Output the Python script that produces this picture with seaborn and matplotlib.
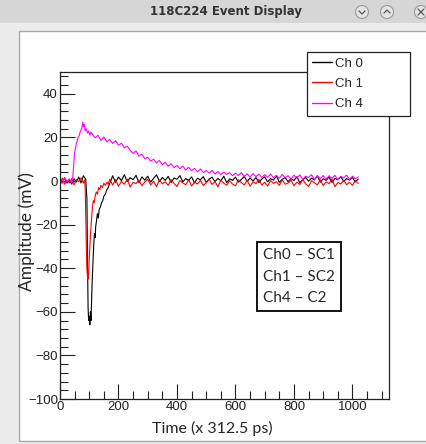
import numpy as np
import pandas as pd
import matplotlib
matplotlib.use("Agg")
import matplotlib.pyplot as plt
from matplotlib.patches import Rectangle, Circle
from matplotlib.lines import Line2D
import seaborn as sns

W, H = 426, 444

channels = ["Ch 0", "Ch 1", "Ch 4"]
colors = ["#000000", "#ff0000", "#ff00ff"]
box_lines = ["Ch0 \u2013 SC1", "Ch1 \u2013 SC2", "Ch4 \u2013 C2"]

# Ch 0 (black) - baseline, deep pulse, slow recovery
ch0_head_x = [0, 8, 16, 24, 32, 40, 48, 56, 64, 72, 80, 88,
              92, 94, 96, 98, 100, 102, 104, 106, 108, 110, 112, 114, 116, 118, 120, 122,
              125, 128, 131, 134, 138, 142, 146, 150, 155, 160, 165, 170, 175]
ch0_head_y = [1.2, -0.8, 1.5, -1.0, 0.6, -1.4, 1.0, -0.5, 1.8, -0.9, 2.4, 0.8,
              -8, -35, -58, -64, -62, -66, -60, -64, -55, -46, -40, -33, -28, -24, -26, -21,
              -18, -15, -17, -13, -12, -10, -9, -7, -6, -4, -3, -1, 0.5]
ch0_tail_y = [2.4, -0.6, 1.8, 0.2, 2.9, -0.3, 1.5, 0.6, 2.6, -0.8,
              1.9, 0.4, 2.2, -0.5, 1.2, 2.8, -0.2, 1.6, 0.3, 2.1,
              -0.7, 1.4, 0.8, 2.5, -0.4, 1.1, 0.2, 1.9, -0.9, 1.3,
              0.5, 2.0, -0.6, 0.9, 1.7, -0.3, 1.2, 0.1, 2.2, -0.8,
              1.0, 0.3, 1.8, -0.5, 0.7, 2.1, -0.2, 1.4, 0.0, 1.6,
              -0.7, 0.9, 1.9, -0.4, 1.1, 0.4, 2.3, -0.6, 0.8, 1.5,
              -0.3, 1.2, 0.2, 2.0, -0.8, 0.6, 1.7, -0.1, 1.3, 0.5,
              2.4, -0.5, 1.0, 0.3, 1.8, -0.7, 1.2, 0.6, 2.0, -0.2,
              1.1, 0.4, 1.6, -0.4, 0.9]

# Ch 1 (red) - baseline, shallower pulse, faster recovery
ch1_head_x = [0, 8, 16, 24, 32, 40, 48, 56, 64, 72, 80,
              84, 86, 88, 90, 92, 94, 96, 98, 100, 102, 104, 106, 108,
              111, 114, 117, 120, 124, 128, 132, 136, 140, 145, 150, 155, 160, 165, 170]
ch1_head_y = [-0.6, 1.3, -1.5, 0.4, -0.9, 1.1, -1.8, 0.7, -0.3, 1.5, -1.0,
              0.5, -3, -15, -30, -40, -44, -45, -42, -36, -30, -25, -21, -17,
              -12, -9, -10, -7, -5, -6, -3, -4, -2, -3, -1, -2.0, -0.5, -1.5, 0.8]
ch1_tail_y = [-1.9, 0.6, -2.4, -0.2, -1.5, 0.9, -2.8, -0.6, -1.2, 0.4,
              -2.2, -0.4, 0.8, -1.8, -0.1, -2.6, 0.5, -1.3, -0.3, -2.0,
              0.7, -1.1, -2.5, 0.2, -0.9, -1.7, 0.6, -2.3, -0.5, -1.4,
              0.3, -2.1, -0.8, 0.9, -1.6, -0.2, -2.7, 0.4, -1.0, -1.9,
              0.1, -1.4, -2.2, 0.6, -0.7, -1.8, 0.3, -2.4, -0.4, -1.2,
              0.8, -1.9, -0.6, -2.3, 0.2, -1.1, -0.3, -2.0, 0.5, -1.5,
              -0.9, 0.4, -2.2, -0.5, -1.6, 0.7, -1.3, -2.5, 0.1, -0.8,
              -1.8, 0.5, -2.1, -0.4, -1.2, 0.9, -2.6, -0.7, -1.4, 0.3,
              -1.7, -0.6, -2.0, 0.2, -1.1]

# Ch 4 (magenta) - positive pulse with long decay
ch4_head_x = [0, 8, 16, 24, 32, 40,
              44, 47, 50, 54, 58, 62, 66, 70, 74, 78, 80, 83, 86, 90, 94, 98, 102, 106]
ch4_head_y = [0.5, -1.2, 1.6, -0.4, 1.0, -0.8,
              2, 8, 13, 16, 18, 20, 21, 23, 24, 27, 25, 26, 23, 24, 22, 23, 21, 22.5]
ch4_tail_y = [21.5, 19.8, 21.0, 18.6, 20.2, 17.9, 19.1, 17.2, 18.5, 16.4,
              17.3, 15.2, 16.0, 14.1, 12.6, 13.8, 11.4, 12.3, 10.2, 10.9,
              9.1, 10.0, 8.3, 9.4, 7.5, 8.6, 6.8, 7.9, 6.2, 7.1,
              5.6, 6.9, 5.0, 6.3, 4.7, 5.8, 4.2, 5.5, 3.9, 4.8,
              3.6, 4.9, 3.2, 4.4, 2.9, 4.1, 3.0, 3.8, 2.4, 3.6,
              2.5, 3.9, 2.1, 3.3, 1.8, 3.4, 2.0, 3.1, 1.6, 2.9,
              1.7, 3.2, 1.4, 2.6, 1.2, 3.0, 1.5, 2.4, 0.9, 2.7,
              1.3, 2.8, 0.8, 2.2, 1.6, 2.9, 0.7, 2.3, 1.1, 2.5,
              0.9, 2.4, 1.2, 2.6, 0.6, 2.1, 1.4, 2.7, 0.8, 2.2, 1.0, 1.9]

ch0_x = ch0_head_x + list(range(180, 1021, 10))
ch0_y = ch0_head_y + ch0_tail_y
ch1_x = ch1_head_x + list(range(180, 1021, 10))
ch1_y = ch1_head_y + ch1_tail_y
ch4_x = ch4_head_x + list(range(110, 1021, 10))
ch4_y = ch4_head_y + ch4_tail_y

df = pd.concat([
    pd.DataFrame({"sample": ch0_x, "amp": ch0_y, "ch": "Ch 0"}),
    pd.DataFrame({"sample": ch1_x, "amp": ch1_y, "ch": "Ch 1"}),
    pd.DataFrame({"sample": ch4_x, "amp": ch4_y, "ch": "Ch 4"}),
], ignore_index=True)

sns.set_style("ticks")
plt.rcParams["font.family"] = ["Liberation Sans", "DejaVu Sans"]


def px(x, y):
    return x / W, 1 - y / H


fig = plt.figure(figsize=(W / 100, H / 100), dpi=100)
fig.patch.set_facecolor("#ececec")

# window chrome, kept behind the axes
fig.add_artist(Rectangle(px(0, 23), 1, 23 / H, transform=fig.transFigure,
                         facecolor="#d6d6d6", edgecolor="none", zorder=-10))
fig.add_artist(Rectangle(px(19, 441), 1, (441 - 31) / H, transform=fig.transFigure,
                         facecolor="#fefefe", edgecolor="#a8a8a8", linewidth=1, zorder=-10))
fig.text(*px(226, 12), "118C224 Event Display", ha="center", va="center",
         fontsize=8.5, fontweight="bold", family="DejaVu Sans", color="#333333")
for cx, sym in [(362, "v"), (387, "^"), (421, "x")]:
    fig.add_artist(Circle((cx / 100, (H - 12) / 100), 0.065, transform=fig.dpi_scale_trans,
                          facecolor="#e4e4e4", edgecolor="#9a9a9a", linewidth=0.8, zorder=-5))
    if sym == "v":
        segs = [([cx - 3, cx, cx + 3], [H - 11, H - 14, H - 11])]
    elif sym == "^":
        segs = [([cx - 3, cx, cx + 3], [H - 13, H - 10, H - 13])]
    else:
        segs = [([cx - 3, cx + 3], [H - 9, H - 15]), ([cx - 3, cx + 3], [H - 15, H - 9])]
    for sx, sy in segs:
        fig.add_artist(Line2D([v / 100 for v in sx], [v / 100 for v in sy],
                              transform=fig.dpi_scale_trans, color="#555555", lw=0.9))

ax = fig.add_axes([60 / W, 1 - 399 / H, (389 - 60) / W, (399 - 72) / H])
ax.set_facecolor("white")
sns.lineplot(data=df, x="sample", y="amp", hue="ch", hue_order=channels,
             palette=colors, estimator=None, sort=False, linewidth=0.8,
             legend=False, ax=ax)

ax.set_xlim(0, 1125)
ax.set_ylim(-100, 50)
ax.set_xticks(range(0, 1001, 200))
ax.set_xticks(range(0, 1101, 50), minor=True)
ax.set_yticks(range(-100, 41, 20))
ax.set_yticks(range(-100, 50, 4), minor=True)
ax.tick_params(which="major", direction="in", length=11, width=0.8, labelsize=9.5,
               top=False, right=False, pad=1.5, colors="#222222")
ax.tick_params(which="minor", direction="in", length=6, width=0.8, top=False, right=False,
               colors="#222222")
for s in ax.spines.values():
    s.set_linewidth(0.9)
    s.set_color("#222222")
ax.set_xlabel("")
ax.set_ylabel("")

fig.text(*px(27, 232), "Amplitude (mV)", rotation=90, ha="center", va="center",
         fontsize=12.5, family=["Lato", "DejaVu Sans"])
fig.text(*px(212, 428), "Time (x 312.5 ps)", ha="center", va="center",
         fontsize=11.5, family=["Lato", "DejaVu Sans"])

handles = [Line2D([0], [0], color=c, lw=1.0) for c in colors]
leg = ax.legend(handles, channels, loc="upper left",
                bbox_to_anchor=(307 / W, 1 - 112 / H, 103 / W, 60 / H),
                bbox_transform=fig.transFigure, mode="expand", borderaxespad=0,
                fontsize=9.5, frameon=True, fancybox=False, framealpha=1,
                edgecolor="#222222", borderpad=0.4, labelspacing=0.62,
                handlelength=1.5, handletextpad=0.2)
leg.get_frame().set_linewidth(0.9)

# annotation box
fig.add_artist(Rectangle(px(257, 311), (341 - 257) / W, (311 - 242) / H,
                         transform=fig.transFigure, facecolor="white",
                         edgecolor="black", linewidth=1.3, zorder=3))
for i, t in enumerate(box_lines):
    fig.text(*px(263, 255 + i * 21.5), t, ha="left", va="center",
             fontsize=11, family=["Lato", "DejaVu Sans"], zorder=4)

fig.savefig("out.png", dpi=100, facecolor=fig.get_facecolor())
